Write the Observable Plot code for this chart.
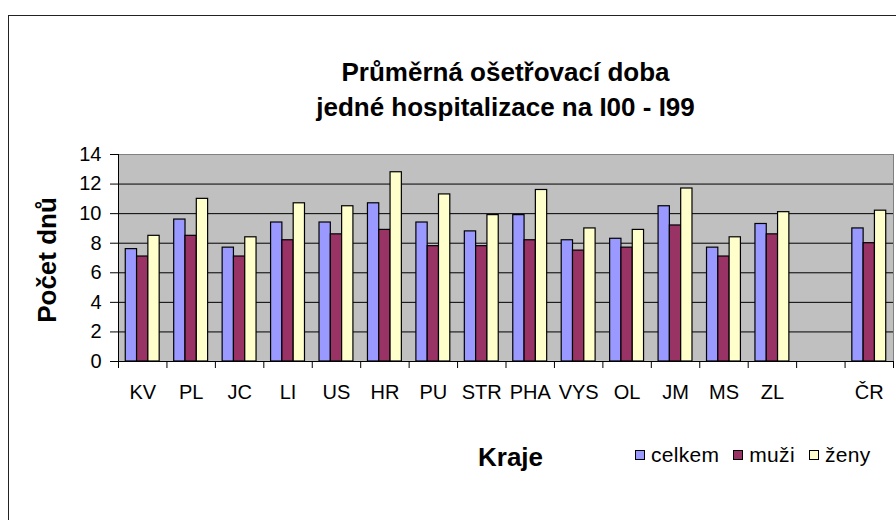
<!DOCTYPE html>
<html>
<head>
<meta charset="utf-8">
<script src="https://cdn.jsdelivr.net/npm/d3@7"></script>
<script src="https://cdn.jsdelivr.net/npm/@observablehq/plot@0.6"></script>
<style>
  html, body { margin: 0; padding: 0; background: #fff; }
  #wrap { position: relative; width: 896px; height: 520px; overflow: hidden; font-family: "Liberation Sans", Arial, sans-serif; }
  #border { position: absolute; left: 8px; top: 15px; width: 1000px; height: 1000px; border-left: 1px solid #222; border-top: 1px solid #222; }
  #chart { position: absolute; left: 0; top: 0; }
  .title { position: absolute; left: 118px; width: 775px; text-align: center; font-weight: bold; font-size: 26px; color: #000; white-space: nowrap; }
  #ylab { position: absolute; left: 47px; top: 260px; transform: translate(-50%, -50%) rotate(-90deg); font-weight: bold; font-size: 26px; white-space: nowrap; }
  #xlab { position: absolute; left: 478px; top: 442px; font-weight: bold; font-size: 26px; }
  #legend { position: absolute; left: 635px; top: 443px; font-size: 21px; display: flex; align-items: center; white-space: nowrap; }
  #legend span.sw { display: inline-block; width: 8px; height: 8px; border: 1px solid #000; margin-right: 6px; }
  #legend span.it { margin-right: 14px; letter-spacing: 0.3px; }
</style>
</head>
<body>
<div id="wrap">
  <div id="border"></div>
  <div id="chart"></div>
  <div class="title" style="top:57px">Průměrná ošetřovací doba</div>
  <div class="title" style="top:92px">jedné hospitalizace na I00 - I99</div>
  <div id="ylab">Počet dnů</div>
  <div id="xlab">Kraje</div>
  <div id="legend"></div>
</div>
<script>
// Data
const kraje  = ["KV","PL","JC","LI","US","HR","PU","STR","PHA","VYS","OL","JM","MS","ZL","","ČR"];
const celkem = [7.6, 9.6, 7.7, 9.4, 9.4, 10.7, 9.4, 8.8, 9.9, 8.2, 8.3, 10.5, 7.7, 9.3, null, 9.0];
const muzi   = [7.1, 8.5, 7.1, 8.2, 8.6, 8.9, 7.8, 7.8, 8.2, 7.5, 7.7, 9.2, 7.1, 8.6, null, 8.0];
const zeny   = [8.5, 11.0, 8.4, 10.7, 10.5, 12.8, 11.3, 9.9, 11.6, 9.0, 8.9, 11.7, 8.4, 10.1, null, 10.2];
const seriesNames = ["celkem", "muži", "ženy"];
const seriesColors = ["#9999FF", "#993366", "#FFFFCC"];
const yTicks = [0, 2, 4, 6, 8, 10, 12, 14];

const seriesValues = [celkem, muzi, zeny];
const rows = [];
seriesValues.forEach((vals, s) => {
  vals.forEach((v, i) => {
    if (v != null) rows.push({i, kraj: kraje[i], series: seriesNames[s], s, value: v});
  });
});

const groupStart = 0.15, barW = 0.7 / 3;

const chart = Plot.plot({
  width: 896,
  height: 520,
  marginTop: 154,
  marginBottom: 159,
  marginLeft: 118,
  marginRight: 3,
  style: {fontFamily: "'Liberation Sans', Arial, sans-serif", fontSize: "20px", color: "#000", background: "transparent"},
  x: {type: "linear", domain: [0, kraje.length], axis: null},
  y: {domain: [0, 14], axis: null},
  color: {domain: seriesNames, range: seriesColors},
  marks: [
    Plot.frame({fill: "#c0c0c0", stroke: "#808080", strokeWidth: 1}),
    Plot.gridY({ticks: yTicks.filter(t => t > 0 && t < 14), stroke: "#000", strokeOpacity: 1, strokeWidth: 1}),
    Plot.rectY(rows, {
      x1: d => d.i + groupStart + d.s * barW,
      x2: d => d.i + groupStart + (d.s + 1) * barW,
      y: "value",
      fill: "series",
      stroke: "#000",
      strokeWidth: 1.2
    }),
    Plot.axisY({ticks: yTicks, label: null, tickSize: 8, tickPadding: 9, stroke: "#000", fontSize: 20}),
    Plot.axisX({ticks: d3.range(kraje.length + 1), label: null, tickSize: 7, tickFormat: () => "", stroke: "#000"}),
    Plot.axisX({ticks: kraje.map((k, i) => i + 0.5), label: null, tickSize: 0, tickPadding: 23, tickFormat: v => kraje[Math.floor(v)], fontSize: 20}),
    Plot.ruleX([0], {stroke: "#000", strokeWidth: 1}),
    Plot.ruleY([0], {stroke: "#000", strokeWidth: 1})
  ]
});
document.getElementById("chart").appendChild(chart);

const legend = document.getElementById("legend");
seriesNames.forEach((n, k) => {
  const sw = document.createElement("span");
  sw.className = "sw";
  sw.style.background = seriesColors[k];
  const t = document.createElement("span");
  t.className = "it";
  t.textContent = n;
  legend.appendChild(sw);
  legend.appendChild(t);
});
</script>
</body>
</html>
